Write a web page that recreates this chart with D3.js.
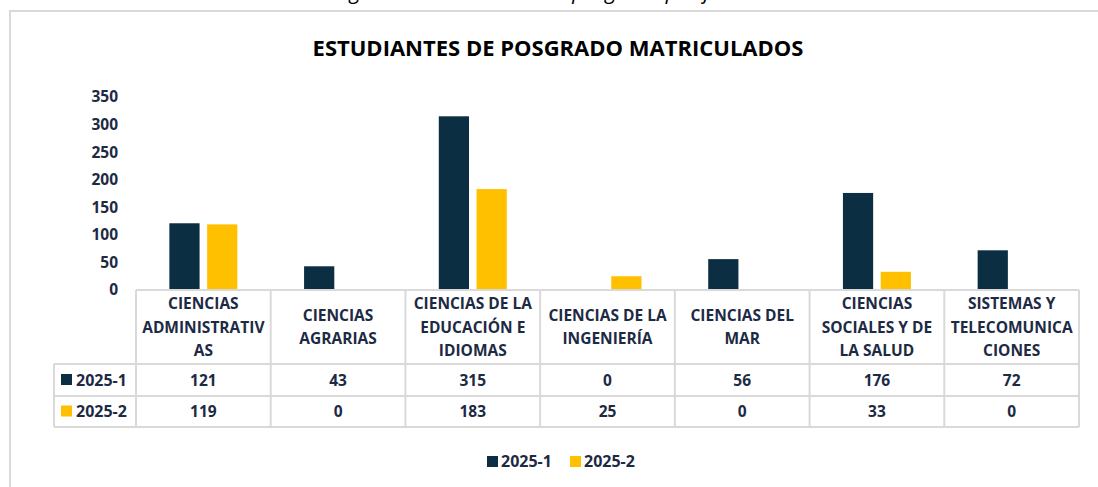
<!DOCTYPE html>
<html>
<head>
<meta charset="utf-8">
<script src="https://cdn.jsdelivr.net/npm/d3@7"></script>
<style>
  body { margin: 0; background: #fff; }
  text { font-family: "Open Sans", sans-serif; }
</style>
</head>
<body>
<div id="svgDiv"></div>
<script>
//chart data
var categories = ["CIENCIAS ADMINISTRATIVAS", "CIENCIAS AGRARIAS", "CIENCIAS DE LA EDUCACIÓN E IDIOMAS",
    "CIENCIAS DE LA INGENIERÍA", "CIENCIAS DEL MAR", "CIENCIAS SOCIALES Y DE LA SALUD", "SISTEMAS Y TELECOMUNICACIONES"];
var categoryLines = [
    ["CIENCIAS", "ADMINISTRATIV", "AS"],
    ["CIENCIAS", "AGRARIAS"],
    ["CIENCIAS DE LA", "EDUCACIÓN E", "IDIOMAS"],
    ["CIENCIAS DE LA", "INGENIERÍA"],
    ["CIENCIAS DEL", "MAR"],
    ["CIENCIAS", "SOCIALES Y DE", "LA SALUD"],
    ["SISTEMAS Y", "TELECOMUNICA", "CIONES"]
];
var seriesNames = ["2025-1", "2025-2"];
var values2025_1 = [121, 43, 315, 0, 56, 176, 72];
var values2025_2 = [119, 0, 183, 25, 0, 33, 0];
var yTicks = [0, 50, 100, 150, 200, 250, 300, 350];
var title = "ESTUDIANTES DE POSGRADO MATRICULADOS";
var caption = "Figura 11. Estudiantes de posgrado por facultad";

var colors = ["#0c2e42", "#ffc000"];
var textColor = "#1d2a44";
var gridColor = "#d9d9d9";

var svgWidth = 1098, svgHeight = 487;

var svg = d3.select("#svgDiv")
    .append("svg")
    .attr("width", svgWidth)
    .attr("height", svgHeight);

//caption, cut off at the top like in the source page
svg.append("text")
    .attr("x", 557).attr("y", -1)
    .attr("text-anchor", "middle")
    .attr("font-style", "italic")
    .attr("font-size", 21)
    .attr("fill", "#000")
    .text(caption);

//chart frame
svg.append("rect")
    .attr("x", 10).attr("y", 11)
    .attr("width", 1100).attr("height", 500)
    .attr("fill", "none")
    .attr("stroke", gridColor)
    .attr("stroke-width", 2);

svg.append("text")
    .attr("x", 558).attr("y", 56)
    .attr("text-anchor", "middle")
    .attr("font-weight", "bold")
    .attr("font-size", 22)
    .attr("fill", "#000")
    .text(title);

var series = [values2025_1, values2025_2];

var xScale = d3.scaleBand()
    .domain(categories)
    .range([136, 1079]);

var ySc = d3.scaleLinear()
    .domain([0, 350])
    .range([290, 97]);

var inner = d3.scaleBand()
    .domain(seriesNames)
    .range([0, 68])
    .paddingInner(0.2);

//y axis labels
var yAxis = d3.axisLeft(ySc).tickValues(yTicks).tickSize(0).tickPadding(0);
var yG = svg.append("g")
    .attr("transform", "translate(118,0)")
    .call(yAxis);
yG.select(".domain").remove();
yG.selectAll("text")
    .attr("font-family", "Open Sans, sans-serif")
    .attr("font-size", 15.5)
    .attr("font-weight", "bold")
    .attr("fill", textColor);

//bars
seriesNames.forEach(function(name, si){
    svg.append("g")
        .selectAll("rect")
        .data(series[si])
        .enter().append("rect")
        .attr("x", function(d, i){
            return xScale(categories[i]) + xScale.bandwidth()/2 - 34 + inner(name);
        })
        .attr("y", function(d){ return ySc(d); })
        .attr("width", inner.bandwidth())
        .attr("height", function(d){ return ySc(0) - ySc(d); })
        .attr("fill", colors[si]);
});

//data table
var rowY = [290, 364, 396, 427];
var table = svg.append("g")
    .attr("stroke", gridColor)
    .attr("stroke-width", 2);

table.append("line").attr("x1", 136).attr("x2", 1079).attr("y1", rowY[0]).attr("y2", rowY[0]);
table.selectAll(".hline")
    .data(rowY.slice(1))
    .enter().append("line")
    .attr("x1", 54).attr("x2", 1079)
    .attr("y1", function(d){ return d; })
    .attr("y2", function(d){ return d; });
table.selectAll(".vline")
    .data(categories)
    .enter().append("line")
    .attr("x1", function(d){ return xScale(d); })
    .attr("x2", function(d){ return xScale(d); })
    .attr("y1", rowY[0]).attr("y2", rowY[3]);
table.append("line").attr("x1", 1079).attr("x2", 1079).attr("y1", rowY[0]).attr("y2", rowY[3]);
table.append("line").attr("x1", 54).attr("x2", 54).attr("y1", rowY[1]).attr("y2", rowY[3]);

//category labels in the header row
categoryLines.forEach(function(lines, i){
    var cx = xScale(categories[i]) + xScale.bandwidth()/2;
    var lh = 23.5;
    var startY = (rowY[0] + rowY[1])/2 - (lines.length - 1) * lh / 2;
    var t = svg.append("text")
        .attr("text-anchor", "middle")
        .attr("font-weight", "bold")
        .attr("font-size", 15.5)
        .attr("fill", textColor);
    lines.forEach(function(l, j){
        t.append("tspan")
            .attr("x", cx)
            .attr("y", startY + j*lh)
            .attr("dy", "0.36em")
            .text(l);
    });
});

//value rows
series.forEach(function(vals, si){
    var cy = (rowY[si+1] + rowY[si+2])/2;
    svg.append("rect")
        .attr("x", 61).attr("y", cy - 6)
        .attr("width", 11).attr("height", 11)
        .attr("fill", colors[si]);
    svg.append("text")
        .attr("x", 76).attr("y", cy)
        .attr("dy", "0.36em")
        .attr("font-weight", "bold")
        .attr("font-size", 16)
        .attr("fill", textColor)
        .text(seriesNames[si]);
    svg.append("g")
        .selectAll("text")
        .data(vals)
        .enter().append("text")
        .attr("x", function(d, i){ return xScale(categories[i]) + xScale.bandwidth()/2; })
        .attr("y", cy)
        .attr("dy", "0.36em")
        .attr("text-anchor", "middle")
        .attr("font-weight", "bold")
        .attr("font-size", 15.5)
        .attr("fill", textColor)
        .text(function(d){ return d; });
});

//legend
var legendX = [487, 570];
seriesNames.forEach(function(name, si){
    svg.append("rect")
        .attr("x", legendX[si]).attr("y", 456)
        .attr("width", 11).attr("height", 11)
        .attr("fill", colors[si]);
    svg.append("text")
        .attr("x", legendX[si] + 14).attr("y", 461)
        .attr("dy", "0.36em")
        .attr("font-weight", "bold")
        .attr("font-size", 16)
        .attr("fill", textColor)
        .text(name);
});
</script>
</body>
</html>
